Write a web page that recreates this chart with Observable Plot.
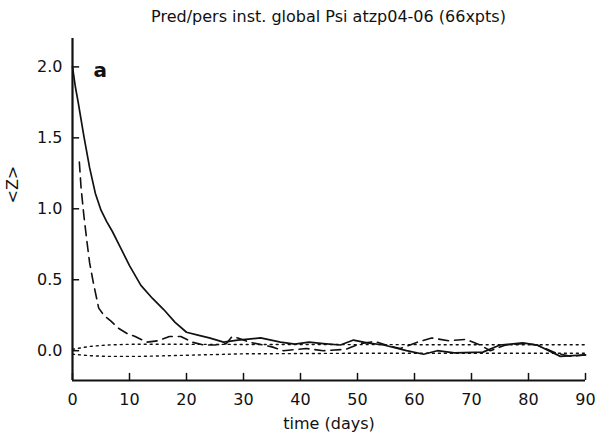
<!DOCTYPE html>
<html>
<head>
<meta charset="utf-8">
<script src="https://cdn.jsdelivr.net/npm/d3@7"></script>
<script src="https://cdn.jsdelivr.net/npm/@observablehq/plot@0.6"></script>
<style>
  body { margin: 0; background: #fff; font-family: "DejaVu Sans", sans-serif; }
  #title { position: absolute; left: 72px; top: 7px; width: 513px; text-align: center; font-size: 16px; color: #111; white-space: nowrap; }
  #chart { position: absolute; left: 0; top: 30px; }
</style>
</head>
<body>
<div id="title">Pred/pers inst. global Psi atzp04-06 (66xpts)</div>
<div id="chart"></div>
<script>
const title = "Pred/pers inst. global Psi atzp04-06 (66xpts)";
const xLabel = "time (days)";
const yLabel = "<Z>";
const panelLabel = "a";
const xTicks = [0, 10, 20, 30, 40, 50, 60, 70, 80, 90];
const yTicks = [0.0, 0.5, 1.0, 1.5, 2.0];
const xDomain = [0, 90];
const yDomain = [-0.21, 2.2];

// solid: prediction
const solidT = [0, 0.5, 1, 2, 3, 4, 5, 6, 7, 8, 10, 12, 14, 16, 18, 20, 22, 24, 26.5, 29, 33, 36.5, 39, 41.5, 44, 47, 49.3, 51.7, 54.6, 58.6, 61.6, 64, 67, 72, 75, 79, 81.5, 85.6, 90];
const solidV = [2.0, 1.86, 1.75, 1.51, 1.29, 1.11, 0.99, 0.91, 0.84, 0.76, 0.60, 0.46, 0.37, 0.29, 0.20, 0.13, 0.11, 0.09, 0.06, 0.075, 0.09, 0.06, 0.046, 0.06, 0.05, 0.04, 0.075, 0.055, 0.04, 0.0, -0.025, 0.0, -0.015, -0.01, 0.04, 0.055, 0.04, -0.04, -0.03];
// dashed: persistence
const dashT = [1.2, 1.5, 2, 2.5, 3, 3.7, 4.6, 5.5, 6.7, 8, 9.6, 11, 13, 15, 17, 19, 21, 23, 25, 27, 28, 29, 31, 35, 37, 41, 44, 48, 50.5, 53, 55, 57.5, 60.5, 63, 66, 69, 71.5, 73.3, 76, 79, 81.5, 85, 87.5, 90];
const dashV = [1.33, 1.15, 0.95, 0.78, 0.62, 0.47, 0.30, 0.25, 0.21, 0.16, 0.12, 0.10, 0.06, 0.07, 0.10, 0.10, 0.06, 0.04, 0.04, 0.05, 0.10, 0.09, 0.06, 0.027, 0.0, 0.015, 0.0, 0.01, 0.05, 0.065, 0.04, 0.015, 0.06, 0.09, 0.07, 0.08, 0.04, 0.0, 0.04, 0.05, 0.04, -0.02, -0.04, -0.03];
// dotted: upper and lower bounds
const upperT = [0, 3, 6, 10, 20, 30, 50, 70, 90];
const upperV = [0.01, 0.03, 0.04, 0.045, 0.045, 0.044, 0.043, 0.042, 0.042];
const lowerT = [0, 3, 6, 12, 20, 30, 50, 70, 90];
const lowerV = [-0.025, -0.035, -0.04, -0.04, -0.032, -0.022, -0.018, -0.018, -0.018];

const toRows = (T, V) => T.map((t, i) => ({t, v: V[i]}));
const solid = toRows(solidT, solidV);
const dashed = toRows(dashT, dashV);
const upper = toRows(upperT, upperV);
const lower = toRows(lowerT, lowerV);

const font = "DejaVu Sans, sans-serif";
const plot = Plot.plot({
  width: 597,
  height: 406,
  marginLeft: 72,
  marginRight: 12,
  marginTop: 8,
  marginBottom: 56,
  style: {fontFamily: font, fontSize: "16px", color: "#111", background: "white"},
  x: {domain: xDomain, axis: null},
  y: {domain: yDomain, axis: null},
  marks: [
    Plot.axisX(xTicks, {tickSize: 0, tickPadding: 13, fontSize: 16, label: null, tickFormat: d3.format("d")}),
    Plot.axisY(yTicks, {tickSize: 0, tickPadding: 10, fontSize: 16, label: null, tickFormat: d3.format(".1f")}),
    Plot.ruleX(xTicks, {y1: yDomain[0], y2: yDomain[0] + 0.05, stroke: "#111", strokeWidth: 1.5}),
    Plot.ruleY(yTicks, {x1: xDomain[0], x2: xDomain[0] + 1.25, stroke: "#111", strokeWidth: 1.5}),
    Plot.ruleX([xDomain[0]], {y1: yDomain[0], y2: yDomain[1], stroke: "#111", strokeWidth: 2.2}),
    Plot.ruleY([yDomain[0]], {x1: xDomain[0], x2: xDomain[1], stroke: "#111", strokeWidth: 2.2}),
    Plot.line(upper, {x: "t", y: "v", stroke: "#111", strokeWidth: 1.4, strokeDasharray: "2,4"}),
    Plot.line(lower, {x: "t", y: "v", stroke: "#111", strokeWidth: 1.4, strokeDasharray: "2,4"}),
    Plot.line(dashed, {x: "t", y: "v", stroke: "#111", strokeWidth: 1.6, strokeDasharray: "10,6", curve: "linear"}),
    Plot.line(solid, {x: "t", y: "v", stroke: "#111", strokeWidth: 1.7, curve: "linear"}),
    Plot.text([panelLabel], {frameAnchor: "top-left", dx: 21, dy: 24, fontWeight: "bold", fontSize: 20, textAnchor: "start"}),
    Plot.text([xLabel], {frameAnchor: "bottom", dy: 48, fontSize: 16}),
    Plot.text([yLabel], {frameAnchor: "left", dx: -60, dy: -6, rotate: -90, fontSize: 16})
  ]
});
document.getElementById("chart").appendChild(plot);
</script>
</body>
</html>
